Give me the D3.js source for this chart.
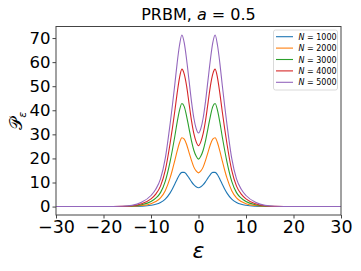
<!DOCTYPE html>
<html>
<head>
<meta charset="utf-8">
<script src="https://cdn.jsdelivr.net/npm/d3@7"></script>
<style>
  body { margin: 0; background: white; }
  text { font-family: "DejaVu Sans", sans-serif; }
</style>
</head>
<body>
<div id="plot1"></div>
<script>
// energy grid (symmetric around 0)
const eps = [-30, -20, -16, -14, -12, -10, -9, -8, -7, -6, -5.5, -5, -4.5, -4, -3.5, -3, -2.5, -2, -1.5, -1, -0.5,
             0, 0.5, 1, 1.5, 2, 2.5, 3, 3.5, 4, 4.5, 5, 5.5, 6, 7, 8, 9, 10, 12, 14, 16, 20, 30];

const p1000 = [0, 0, 0.01, 0.05, 0.18, 0.55, 0.95, 1.7, 3.1, 5.6, 7.3, 9.3, 11.4, 13.2, 14.2, 14.2, 13.3, 11.9, 10.4, 9.1, 8.2,
               7.8, 8.2, 9.1, 10.4, 11.9, 13.3, 14.2, 14.2, 13.2, 11.4, 9.3, 7.3, 5.6, 3.1, 1.7, 0.95, 0.55, 0.18, 0.05, 0.01, 0, 0];
const p2000 = [0, 0, 0.03, 0.12, 0.42, 1.2, 2.1, 3.6, 6.6, 11.8, 15.2, 19, 23, 26.5, 28.6, 28, 25.8, 22.5, 19.3, 16.5, 14.8,
               14, 14.8, 16.5, 19.3, 22.5, 25.8, 28, 28.6, 26.5, 23, 19, 15.2, 11.8, 6.6, 3.6, 2.1, 1.2, 0.42, 0.12, 0.03, 0, 0];
const p3000 = [0, 0, 0.06, 0.22, 0.75, 2.1, 3.5, 5.8, 10.5, 18.5, 23.5, 29, 35, 40, 42.8, 41.5, 37.5, 32.5, 27.5, 23.5, 21,
               19.7, 21, 23.5, 27.5, 32.5, 37.5, 41.5, 42.8, 40, 35, 29, 23.5, 18.5, 10.5, 5.8, 3.5, 2.1, 0.75, 0.22, 0.06, 0, 0];
const p4000 = [0, 0.01, 0.1, 0.35, 1.2, 3.2, 5.2, 8.5, 15, 26, 32.5, 39.5, 47, 53.5, 57.1, 55, 50, 43, 36, 30.5, 27,
               25.3, 27, 30.5, 36, 43, 50, 55, 57.1, 53.5, 47, 39.5, 32.5, 26, 15, 8.5, 5.2, 3.2, 1.2, 0.35, 0.1, 0.01, 0];
const p5000 = [0, 0.01, 0.15, 0.5, 1.8, 4.6, 7.2, 11.5, 20, 34, 42, 50.5, 59.5, 67, 71.3, 68, 61, 52.5, 44, 37, 32.5,
               30.6, 32.5, 37, 44, 52.5, 61, 68, 71.3, 67, 59.5, 50.5, 42, 34, 20, 11.5, 7.2, 4.6, 1.8, 0.5, 0.15, 0.01, 0];

const seriesNames = ["1000", "2000", "3000", "4000", "5000"];
const seriesValues = [p1000, p2000, p3000, p4000, p5000];
const seriesColors = ["#1f77b4", "#ff7f0e", "#2ca02c", "#d62728", "#9467bd"];

const xTicks = [-30, -20, -10, 0, 10, 20, 30];
const yTicks = [0, 10, 20, 30, 40, 50, 60, 70];

function plot1() {
    // dimensional constants
    const svgwidth = 361;
    const svgheight = 271;
    const margin = {top: 26.5, bottom: 56, left: 56, right: 20};
    const xtick_size = 17.5;
    const ytick_size = 16.5;
    const tick_len = 3.5;

    let xScale = d3.scaleLinear()
        .domain([-30, 30])
        .range([margin.left, svgwidth - margin.right]);
    let yScale = d3.scaleLinear()
        .domain([-3.5, 74.8])
        .range([svgheight - margin.bottom, margin.top]);

    let svg = d3.select("#plot1").append("svg")
        .attr("width", svgwidth)
        .attr("height", svgheight);

    svg.append("clipPath").attr("id", "clip")
        .append("rect")
        .attr("x", margin.left).attr("y", margin.top)
        .attr("width", svgwidth - margin.left - margin.right)
        .attr("height", svgheight - margin.top - margin.bottom);

    // curves
    let line = d3.line()
        .x((d, i) => xScale(eps[i]))
        .y(d => yScale(d))
        .curve(d3.curveMonotoneX);
    svg.append("g")
        .attr("clip-path", "url(#clip)")
        .selectAll("path")
        .data(seriesValues)
        .enter().append("path")
        .attr("d", d => line(d))
        .attr("fill", "none")
        .attr("stroke", (d, i) => seriesColors[i])
        .attr("stroke-width", 1.1);

    // axes
    let xAxis = d3.axisBottom(xScale).tickValues(xTicks)
        .tickSize(tick_len).tickPadding(2)
        .tickFormat(d => d < 0 ? "\u2212" + Math.abs(d) : d);
    let yAxis = d3.axisLeft(yScale).tickValues(yTicks)
        .tickSize(tick_len).tickPadding(2);
    let xa = svg.append("g")
        .attr("transform", `translate(0,${svgheight - margin.bottom})`)
        .call(xAxis);
    let ya = svg.append("g")
        .attr("transform", `translate(${margin.left},0)`)
        .call(yAxis);
    [[xa, xtick_size], [ya, ytick_size]].forEach(([a, fs]) => {
        a.select(".domain").remove();
        a.selectAll("line").attr("stroke", "#444");
        a.selectAll("text")
            .attr("fill", "black")
            .style("font-size", fs + "px")
            .style("font-family", "DejaVu Sans");
    });

    // frame
    svg.append("rect")
        .attr("x", margin.left).attr("y", margin.top)
        .attr("width", svgwidth - margin.left - margin.right)
        .attr("height", svgheight - margin.top - margin.bottom)
        .attr("fill", "none")
        .attr("stroke", "#444")
        .attr("stroke-width", 1);

    // title
    let title = svg.append("text")
        .attr("x", (margin.left + svgwidth - margin.right) / 2)
        .attr("y", 20)
        .attr("text-anchor", "middle")
        .style("font-size", "16px");
    title.append("tspan").text("PRBM, ");
    title.append("tspan").text("a").style("font-style", "italic");
    title.append("tspan").text(" = 0.5");

    // x label
    svg.append("text")
        .text("\u03b5")
        .attr("x", (margin.left + svgwidth - margin.right) / 2)
        .attr("y", 258)
        .attr("text-anchor", "middle")
        .style("font-style", "italic")
        .style("font-size", "22px");

    // y label
    let ylab = svg.append("text")
        .attr("transform", `translate(22, ${(margin.top + svgheight - margin.bottom) / 2}) rotate(-90)`)
        .attr("text-anchor", "middle")
        .style("font-size", "17px");
    ylab.append("tspan").text("\ud835\udcab").style("font-family", "DejaVu Sans, DejaVu Serif, serif");
    ylab.append("tspan").text("\u03b5").attr("dy", 4).style("font-size", "11px").style("font-style", "italic");

    // legend
    const lx = 273.5, ly = 30, lw = 64, lh = 60, rowh = 11.4;
    let legend = svg.append("g").attr("class", "legend");
    legend.append("rect")
        .attr("x", lx).attr("y", ly).attr("width", lw).attr("height", lh)
        .attr("rx", 2)
        .attr("fill", "white")
        .attr("stroke", "#d0d0d0")
        .attr("stroke-width", 0.8);
    seriesNames.forEach((name, i) => {
        let row = legend.append("g")
            .attr("transform", `translate(${lx}, ${ly + 6.7 + i * rowh})`);
        row.append("line")
            .attr("x1", 2.5).attr("x2", 19.5)
            .attr("stroke", seriesColors[i])
            .attr("stroke-width", 1.1);
        let t = row.append("text")
            .attr("x", 25).attr("y", 3)
            .style("font-size", "8px");
        t.append("tspan").text("N").style("font-style", "italic");
        t.append("tspan").text(" = " + name);
    });
}

plot1();
</script>
</body>
</html>
